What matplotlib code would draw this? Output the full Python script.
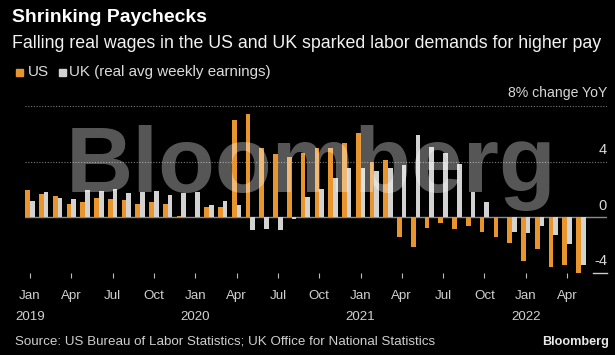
import matplotlib
matplotlib.use('Agg')
import matplotlib.pyplot as plt
import matplotlib.transforms as mtransforms
import numpy as np

# monthly YoY % change, Jan 2019 .. May 2022
us = [2.0, 1.7, 1.55, 0.95, 1.1, 1.38, 1.32, 1.28, 0.95, 1.08, 0.95, 0.08,
      0.05, 0.76, 0.75, 7.0, 7.43, 4.95, 4.53, 4.34, 4.63, 4.95, 4.97, 5.31,
      6.08, 4.0, 4.15, -1.43, -2.12, -0.74, -0.4, -0.8, -0.6, -1.07, -1.43, -1.83,
      -3.14, -2.25, -3.57, -3.4, -4.0]
uk = [1.15, 1.8, 1.37, 1.3, 2.0, 1.93, 2.07, 1.78, 1.8, 1.93, 1.59, 1.73,
      1.8, 0.9, 1.16, 0.88, -0.93, -0.8, -0.93, -0.1, 1.5, 2.04, 2.81, 3.56,
      3.52, 3.3, 3.56, 3.78, 5.94, 5.08, 4.64, 3.82, 1.8, 1.1, 0.0, -1.02,
      -1.09, -0.6, -1.25, -1.92, -3.4]
tick_labels = ['Jan\n2019', 'Apr', 'Jul', 'Oct', 'Jan\n2020', 'Apr', 'Jul', 'Oct',
               'Jan\n2021', 'Apr', 'Jul', 'Oct', 'Jan\n2022', 'Apr']
y_labels = ['4', '0', '-4']
y_label_vals = [4, 0, -4]

ORANGE = '#e8952e'
GREY = '#d2d2d2'
W, H = 615, 355
SANS = ['Liberation Sans', 'DejaVu Sans']
plt.rcParams['font.family'] = SANS

fig = plt.figure(figsize=(W / 100, H / 100), dpi=100, facecolor='black')


def fx(x):
    return x / W


def fy(y):
    return 1 - y / H


def fit(t, width):
    r = fig.canvas.get_renderer()
    w = t.get_window_extent(r).width
    t.set_fontsize(t.get_fontsize() * width / w)


ax = fig.add_axes([fx(25), fy(273.2), 582 / W, (273.2 - 106) / H])
ax.set_facecolor('black')
x = np.arange(len(us))
ax.bar(x - 0.17, us, 0.34, color=ORANGE, zorder=2)
ax.bar(x + 0.17, uk, 0.34, color=GREY, zorder=2)
ax.set_xlim(-0.363, 41.9)
ax.set_ylim(-4, 8)
ax.axhline(0, color='#8a8a8a', lw=1, zorder=1)
for v in (4, 8):
    ax.axhline(v, color='#7a7a7a', lw=0.8, ls=(0, (1, 1.5)), zorder=1)
for s in ax.spines.values():
    s.set_visible(False)
ax.set_yticks([])
ax.set_xticks(x[::3])
ax.set_xticklabels(tick_labels, linespacing=1.95)
ax.tick_params(axis='x', length=3.6, width=0.8, color='#bbbbbb', pad=8.5,
               labelcolor='#d0d0d0', labelsize=9.6)

# y labels sit above their gridline at the right edge
trans = mtransforms.blended_transform_factory(ax.transAxes, ax.transData)
for lab, v in zip(y_labels, y_label_vals):
    ax.annotate(lab, (1.0, v), xycoords=trans, xytext=(0, 8.6), textcoords='offset points',
                ha='right', va='center', color='#d8d8d8', fontsize=10.5)
t = ax.annotate('8% change YoY', (1.0, 8), xycoords=trans, xytext=(0, 9.4), textcoords='offset points',
                ha='right', va='center', color='#d8d8d8', fontsize=10.5)
fit(t, 99)
ax.plot([0.976, 1.0], [-4, -4], transform=trans, color='#cccccc', lw=1, clip_on=False)

# header
t = fig.text(fx(12), fy(18), 'Shrinking Paychecks', color='white', fontsize=13,
             fontweight='bold', va='center')
fit(t, 195)
t = fig.text(fx(12), fy(43), 'Falling real wages in the US and UK sparked labor demands for higher pay',
             color='#f2f2f2', fontsize=12, va='center')
fit(t, 593)

# legend
fig.patches.append(plt.Rectangle((fx(16), fy(75.5)), 6.5 / W, 6.5 / H, transform=fig.transFigure,
                                 color=ORANGE))
t = fig.text(fx(28), fy(72), 'US', color='#dcdcdc', fontsize=11, va='center')
fig.patches.append(plt.Rectangle((fx(59), fy(75.5)), 6.5 / W, 6.5 / H, transform=fig.transFigure,
                                 color=GREY))
t = fig.text(fx(69), fy(72), 'UK (real avg weekly earnings)', color='#dcdcdc', fontsize=11, va='center')
fit(t, 202)

# watermark drawn over the bars
t = fig.text(fx(66), fy(192), 'Bloomberg', color='white', alpha=0.34, fontsize=65,
             fontweight='bold', va='baseline')
fit(t, 491)

# footer
t = fig.text(fx(15), fy(341), 'Source: US Bureau of Labor Statistics; UK Office for National Statistics',
             color='#cfcfcf', fontsize=10, va='center')
fit(t, 422)
t = fig.text(fx(609), fy(342), 'Bloomberg', color='#e8e8e8', fontsize=10, fontweight='bold',
             va='center', ha='right')
fit(t, 67)

fig.savefig('out.png', dpi=100, facecolor='black')
